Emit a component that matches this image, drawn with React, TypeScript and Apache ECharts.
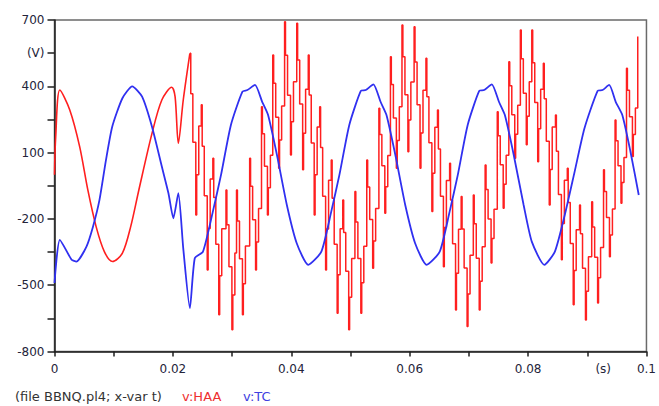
import React, { useEffect, useRef } from 'react';
import * as echarts from 'echarts';

// Axis ticks and labels
const xTicks = [0, 0.01, 0.02, 0.03, 0.04, 0.05, 0.06, 0.07, 0.08, 0.09, 0.1];
const xLabels = [0, 0.02, 0.04, 0.06, 0.08, 0.1];
const xUnitAt = 0.0927;
const xUnitText = '(s)';
const yTicks = [-800, -650, -500, -350, -200, -50, 100, 250, 400, 550, 700];
const yLabels = [-800, -500, -200, 100, 400, 700];
const yUnitAt = 550;
const yUnitText = '(V)';

// v:TC (blue)
const tcTimes = [
  0, 0.0009, 0.0029, 0.0037, 0.0054, 0.0065, 0.0076, 0.0087, 0.00975, 0.01147,
  0.01313, 0.0148, 0.01647, 0.01813, 0.01925, 0.02008, 0.02092, 0.02175, 0.02287, 0.0237,
  0.02508, 0.02675, 0.02813, 0.0298, 0.03175, 0.03258, 0.03387, 0.03508, 0.03608, 0.03758,
  0.03925, 0.04092, 0.04287, 0.04508, 0.04675, 0.04813, 0.0498, 0.05175, 0.05258, 0.05387,
  0.05508, 0.05608, 0.05758, 0.05925, 0.06092, 0.06287, 0.06508, 0.06675, 0.06813, 0.0698,
  0.07175, 0.07258, 0.07387, 0.07508, 0.07608, 0.07758, 0.07925, 0.08063, 0.08275, 0.08453,
  0.0862, 0.08787, 0.08953, 0.09175, 0.09258, 0.0937, 0.0948, 0.09592, 0.0973, 0.0987,
];
const tcValues = [
  -490, -295, -385, -393, -325, -235, -114, 67, 217, 346,
  400, 353, 217, 37, -84, -197, -84, -333, -604, -378,
  -348, -167, -1, 225, 376, 383, 406, 330, 270, 89,
  -137, -310, -408, -348, -167, -1, 225, 379, 383, 409,
  330, 270, 89, -137, -310, -408, -348, -167, -1, 225,
  379, 383, 409, 330, 270, 89, -137, -303, -408, -348,
  -182, 14, 210, 379, 383, 406, 330, 270, 104, -92,
];

// v:HAA (red) - smooth lead-in before chopping
const haaLeadTimes = [
  0, 0.0002, 0.0009, 0.00258, 0.00425, 0.00563, 0.00703, 0.00842, 0.0098, 0.01147,
  0.01287, 0.01425, 0.01647, 0.01813, 0.0198, 0.02037, 0.02092, 0.02175, 0.02287,
];
const haaLeadValues = [
  0, 170, 383, 293, 127, -69, -235, -348, -393, -355,
  -235, -69, 187, 338, 396, 353, 142, 338, 549,
];

// v:HAA (red) - chopped part, one entry per ripple cycle
const haaCycleTimes = [
  0.02287, 0.0248, 0.02675, 0.02897, 0.03075, 0.03297, 0.03497, 0.03687,
  0.03887, 0.04092, 0.04287, 0.0448, 0.04675, 0.0487, 0.05075, 0.05275, 0.0548, 0.05675,
  0.0587, 0.06075, 0.06275, 0.0647, 0.06675, 0.0687, 0.07075, 0.07275, 0.0748, 0.07675,
  0.0787, 0.08063, 0.08258, 0.08463, 0.08663, 0.0887, 0.09075, 0.09275, 0.0947, 0.09663,
  0.09853,
];
const haaPeak = [
  549, 316, 74, -69, -69, 74, 308, 542,
  692, 685, 542, 308, 67, -114, -76, 67, 301, 534,
  677, 670, 527, 293, 52, -99, -92, 44, 285, 511,
  655, 655, 504, 270, 29, -137, -122, 22, 248, 482,
  625,
];
const haaShoulderA = [
  366, 129, -103, -227, -210, -52, 185, 414,
  541, 519, 361, 123, -107, -261, -214, -56, 182, 408,
  534, 510, 353, 116, -114, -246, -222, -67, 176, 402,
  525, 506, 344, 106, -126, -267, -237, -76, 154, 382,
];
const haaShoulderB = [
  147, -95, -315, -417, -380, -204, 38, 260,
  360, 320, 144, -98, -315, -437, -379, -203, 40, 256,
  362, 317, 145, -97, -313, -422, -378, -200, 45, 271,
  369, 327, 151, -90, -311, -423, -374, -194, 41, 262,
];
const haaTrough = [
  -182, -431, -634, -702, -634, -431, -182, 29,
  89, 22, -182, -431, -627, -702, -627, -423, -174, 29,
  104, 29, -167, -416, -612, -687, -612, -400, -152, 74,
  135, 59, -137, -385, -589, -657, -581, -371, -129, 82,
];
const haaShoulderC = [
  0, -244, -457, -544, -493, -305, -59, 157,
  240, 188, 0, -246, -453, -555, -489, -300, -55, 155,
  247, 189, 7, -239, -446, -540, -482, -289, -43, 183,
  265, 208, 23, -221, -434, -527, -466, -273, -35, 182,
];
const haaShoulderD = [
  220, -20, -245, -354, -323, -153, 88, 311,
  421, 387, 216, -25, -245, -379, -324, -153, 87, 307,
  419, 382, 215, -26, -247, -364, -326, -156, 88, 314,
  421, 387, 216, -25, -249, -371, -329, -155, 78, 302,
];

// time offsets of the vertical strokes inside one ripple cycle (shape only)
const strokeOffsets = [0, 0.00015, 0.0005, 0.001, 0.00115, 0.0015];

const RED = '#ff1f1f';
const BLUE = '#3030f0';
const FONT = 'DejaVu Sans';

function buildChop(): [number, number][] {
  const out: [number, number][] = [];
  haaCycleTimes.forEach((t, k) => {
    out.push([t, haaPeak[k]]);
    if (k < haaTrough.length) {
      const levels = [haaShoulderA[k], haaShoulderB[k], haaTrough[k], haaShoulderC[k], haaShoulderD[k]];
      levels.forEach((v, i) => out.push([t + strokeOffsets[i + 1], v]));
    }
  });
  return out;
}

export default function App() {
  const ref = useRef<HTMLDivElement>(null);
  useEffect(() => {
    if (!ref.current) return;
    const chart = echarts.init(ref.current, null, { renderer: 'svg' });
    const tcData = tcTimes.map((t, i) => [t, tcValues[i]]);
    const leadData = haaLeadTimes.map((t, i) => [t, haaLeadValues[i]]);
    const chopData = buildChop();
    const axisColor = '#1e1e1e';
    const labelColor = '#24243a';
    chart.setOption({
      animation: false,
      backgroundColor: '#ffffff',
      grid: {
        left: 54.5,
        right: 4.5,
        top: 20,
        bottom: 54.5,
        show: true,
        borderColor: '#6a6a6a',
        borderWidth: 1.5,
        backgroundColor: 'transparent',
      },
      xAxis: {
        type: 'value',
        min: 0,
        max: 0.1,
        axisLine: { show: true, onZero: false, lineStyle: { color: axisColor, width: 1.5 } },
        axisTick: { show: true, customValues: xTicks, length: 5, lineStyle: { color: axisColor, width: 1.5 } },
        axisLabel: {
          customValues: [...xLabels, xUnitAt],
          formatter: (v: number) => (Math.abs(v - xUnitAt) < 1e-9 ? xUnitText : String(Number(v.toFixed(2)))),
          color: labelColor,
          fontFamily: FONT,
          fontSize: 12,
          margin: 11,
        },
        splitLine: { show: false },
      },
      yAxis: {
        type: 'value',
        min: -800,
        max: 700,
        axisLine: { show: true, lineStyle: { color: axisColor, width: 1.5 } },
        axisTick: { show: true, customValues: yTicks, length: 7, lineStyle: { color: axisColor, width: 1.5 } },
        axisLabel: {
          customValues: [...yLabels, yUnitAt],
          formatter: (v: number) => (v === yUnitAt ? yUnitText : String(v)),
          color: labelColor,
          fontFamily: FONT,
          fontSize: 12,
          margin: 10,
        },
        splitLine: { show: false },
      },
      series: [
        {
          name: 'v:HAA',
          type: 'line',
          data: leadData,
          showSymbol: false,
          smooth: 0.3,
          lineStyle: { color: RED, width: 1.6 },
          z: 2,
        },
        {
          name: 'v:HAA chop',
          type: 'line',
          data: chopData,
          step: 'end',
          showSymbol: false,
          lineStyle: { color: RED, width: 1.5 },
          z: 2,
        },
        {
          name: 'v:TC',
          type: 'line',
          data: tcData,
          showSymbol: false,
          smooth: 0.2,
          lineStyle: { color: BLUE, width: 1.8 },
          z: 3,
        },
      ],
      graphic: [
        { type: 'text', left: 15, top: 390, style: { text: '(file BBNQ.pl4; x-var t)', fill: '#333333', font: `13px "${FONT}"` } },
        { type: 'text', left: 182, top: 390, style: { text: 'v:HAA', fill: '#ee3030', font: `13px "${FONT}"` } },
        { type: 'text', left: 243, top: 390, style: { text: 'v:TC', fill: '#4040e0', font: `13px "${FONT}"` } },
      ],
    });
    return () => chart.dispose();
  }, []);
  return <div ref={ref} style={{ position: 'fixed', left: 0, top: 0, width: 659, height: 406 }} />;
}
